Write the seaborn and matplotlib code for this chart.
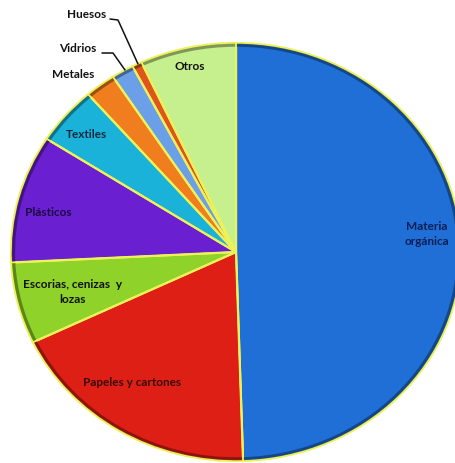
"""
Composición de residuos sólidos - gráfico de torta.
"""

import matplotlib.pyplot as plt
import matplotlib.colors as mcolors
import seaborn as sns

CATEGORIES = ['Materia orgánica', 'Papeles y cartones', 'Escorias, cenizas y lozas',
              'Plásticos', 'Textiles', 'Metales', 'Vidrios', 'Huesos', 'Otros']
SHARES = [49.5, 18.4, 6.3, 9.9, 4.5, 2.2, 1.6, 0.7, 6.9]
COLORS = ['#1f6fd6', '#dd1f16', '#8ed22a', '#6a1fd0', '#1ab2d8',
          '#f07d1e', '#6b9fe8', '#e0541e', '#c6ef8e']

# label texts and where they sit (pixel positions in the 455x463 image)
LABELS = ['Materia\norgánica', 'Papeles y cartones', 'Escorias, cenizas  y\nlozas',
          'Plásticos', 'Textiles', 'Metales', 'Vidrios', 'Huesos', 'Otros']
LABEL_PX = [(427, 234), (132, 382), (73, 292), (48, 213), (87, 135),
            (73, 74), (78, 48), (87, 15), (190, 67)]
LABEL_COLORS = ['#0c1f55', '#3a0a08', '#111111', '#1a0a40', '#0a2a40',
                '#111111', '#111111', '#111111', '#111111']

W, H = 455, 463
CX, CY, RX, RY = 236, 252, 225, 209


def px_to_data(px, py):
    return (px - CX) / RX, (CY - py) / RY


sns.set_style('white')
plt.rcParams['font.family'] = ['Lato', 'DejaVu Sans']

fig = plt.figure(figsize=(W / 100, H / 100), dpi=100)
ax = fig.add_axes([(CX - RX) / W, (H - CY - RY) / H, 2 * RX / W, 2 * RY / H])

ax.pie(SHARES, colors=COLORS, startangle=90, counterclock=False,
       wedgeprops=dict(edgecolor='#eef25a', linewidth=1.6))

# dark bevel at the outer rim
rim = [mcolors.to_hex([c * 0.55 for c in mcolors.to_rgb(col)]) for col in COLORS]
ax.pie(SHARES, colors=rim, startangle=90, counterclock=False, radius=1.0,
       wedgeprops=dict(width=0.018, edgecolor='none', alpha=0.8))
ax.pie(SHARES, colors=['none'] * len(SHARES), startangle=90, counterclock=False,
       wedgeprops=dict(edgecolor='#eef25a', linewidth=1.0, fill=False))

ax.set_aspect('auto')
ax.set_xlim(-1, 1)
ax.set_ylim(-1, 1)
ax.axis('off')

for lab, (px, py), col in zip(LABELS, LABEL_PX, LABEL_COLORS):
    x, y = px_to_data(px, py)
    ax.text(x, y, lab, ha='center', va='center', fontsize=8.5,
            fontweight='bold', color=col, linespacing=1.45, clip_on=False)

# leader lines for the small slices
for pts in ([(102, 53), (113, 53), (125, 70)],
            [(110, 19), (118, 20), (138, 64)]):
    xy = [px_to_data(*p) for p in pts]
    ax.plot([p[0] for p in xy], [p[1] for p in xy], color='#111111', lw=1.1,
            clip_on=False)

fig.savefig('out.png', dpi=100, facecolor='white')
